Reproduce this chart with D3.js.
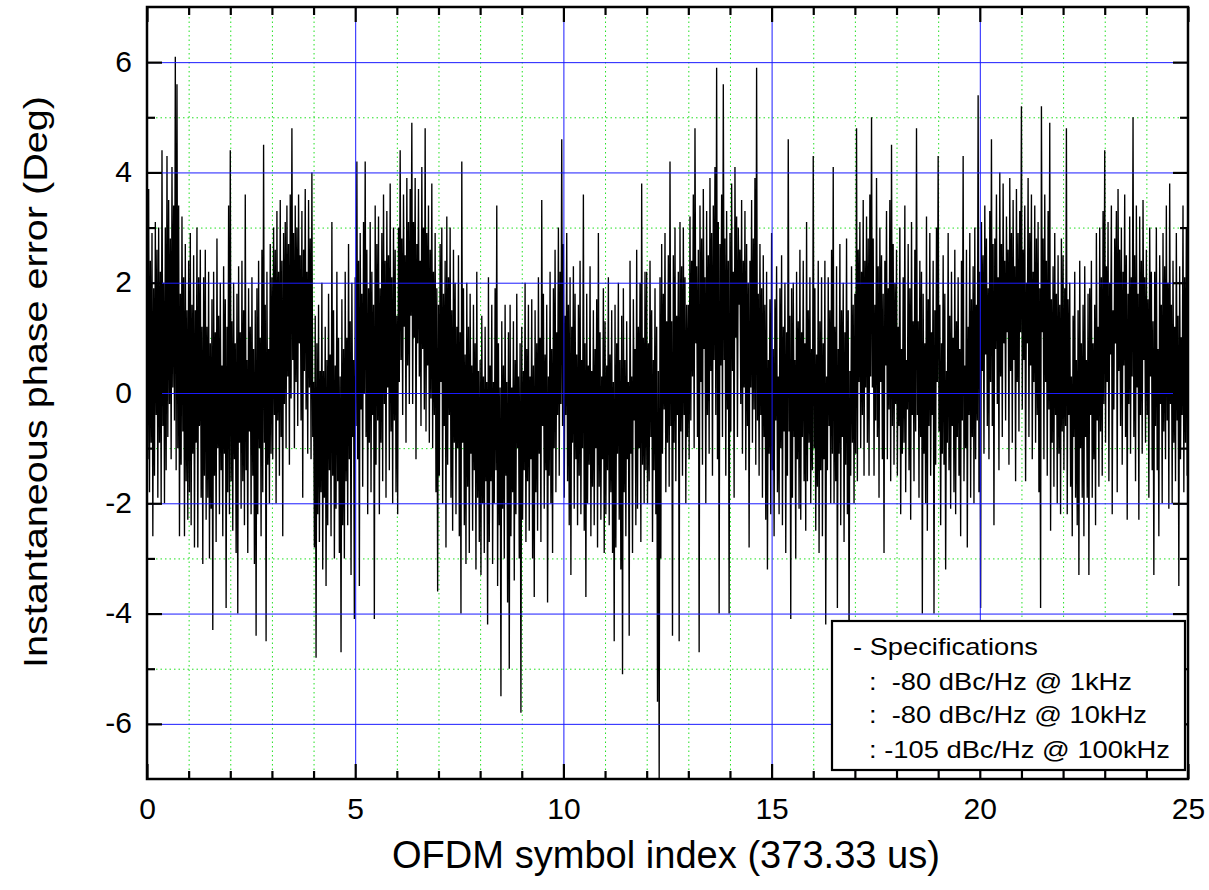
<!DOCTYPE html>
<html><head><meta charset="utf-8">
<script src="https://cdn.jsdelivr.net/npm/d3@7"></script>
<style>
body{margin:0;background:#fff}
text{font-family:"Liberation Sans", Arial, Helvetica, sans-serif; fill:#000; white-space:pre}
</style>
</head><body><svg id="chart" width="1209" height="890"></svg>
<script>
// ---- data, one row per OFDM symbol ----
const sampleStep = 0.02; // OFDM symbols per sample
const phaseError = [
 3.2,-1.2,3.7,-1.8,2.4,-0.9,2.9,-2.6,1.9,-1.5,3.1,-0.4,2.6,-1.9,3.0,-0.9,2.2,-2.0,4.4,-0.6,2.0,-2.0,3.0,-1.4,4.3,-0.8,3.5,-0.2,2.8,-1.2,4.1,0.1,3.4,-0.5,6.1,-1.4,5.6,-1.0,3.4,-2.6,1.8,-1.3,3.2,-0.7,2.1,-2.6,2.7,-1.6,1.5,-2.3,
 2.4,-1.8,2.9,-2.4,1.6,-1.1,2.5,-2.8,1.5,-0.9,3.0,-2.8,2.1,-0.6,2.6,-1.9,1.2,-3.1,2.1,-1.5,2.6,-2.3,1.2,-1.9,2.2,-3.0,0.9,-2.1,1.7,-4.3,2.2,-1.5,1.1,-2.7,2.8,-1.0,1.4,-2.2,2.0,-1.4,0.5,-2.6,2.3,-1.1,1.7,-3.9,1.2,-1.8,3.4,-2.2,
 4.4,-1.6,1.3,-2.5,2.0,-1.2,0.9,-2.9,1.8,-4.0,2.3,-0.9,1.1,-2.1,2.4,-1.6,1.5,-2.4,3.6,-1.4,0.6,-2.9,1.9,-0.7,1.2,-2.2,2.1,-1.5,0.8,-3.1,1.5,-4.4,1.9,-2.2,2.4,-1.0,1.0,-2.6,2.6,-1.8,4.5,-0.9,1.6,-4.5,2.2,-1.3,0.8,-2.0,2.7,-1.1,
 2.1,-1.2,3.0,-0.4,2.6,-2.0,3.3,-0.5,2.2,-1.5,3.5,-0.8,2.4,-2.6,2.9,-0.2,3.1,-1.0,3.4,0.3,2.7,-1.3,3.6,-0.1,4.8,0.6,2.9,-1.0,3.4,0.2,3.0,-0.6,3.6,0.9,2.5,-0.5,3.3,-1.9,2.6,0.4,3.7,-0.3,2.2,-1.1,3.5,0.1,2.8,-1.2,4.0,-0.8,
 0.2,-2.8,1.4,-4.8,0.9,-2.2,1.6,-2.7,0.4,-1.8,2.0,-3.2,0.4,-1.9,1.2,-3.5,0.6,-2.4,1.8,-1.4,0.7,-2.6,3.1,-1.5,1.5,-3.0,0.5,-2.1,2.2,-1.6,1.0,-2.9,0.3,-4.7,1.7,-2.4,0.8,-3.0,2.2,-1.6,1.0,-2.4,2.7,-1.2,1.3,-3.3,2.0,-0.8,0.6,-4.1,
 2.1,-0.6,4.2,-1.2,2.4,-3.5,2.9,-0.3,1.8,-1.7,3.1,0.0,4.2,-0.8,2.6,-2.2,1.9,-0.9,3.1,-1.8,2.2,-0.4,1.6,-4.1,3.4,-1.3,2.7,-0.5,3.2,-2.2,1.9,-0.9,2.9,-1.6,3.6,-0.2,2.4,-1.9,3.3,0.1,2.5,-1.4,3.8,-0.7,2.1,-2.0,3.0,-0.5,2.6,-1.8,
 1.4,-2.2,3.0,0.2,4.4,0.6,2.8,-0.4,3.6,1.2,2.5,-0.9,3.9,0.5,3.1,-0.2,3.7,1.4,4.9,-0.2,3.1,1.0,3.9,-1.2,2.7,0.9,3.7,0.3,2.4,-0.6,4.1,0.8,3.0,-0.3,4.8,-0.7,2.9,0.5,3.4,-0.9,2.6,-0.1,3.8,-1.0,2.2,-0.4,2.9,-1.8,1.9,-3.6,
 1.6,-1.5,2.7,0.2,3.0,-2.0,1.8,-0.6,2.4,-2.8,3.2,-1.3,2.1,-0.4,3.0,-1.9,1.5,-2.5,2.6,-0.9,2.0,-2.2,1.2,-1.0,2.5,-2.6,1.1,-4.0,4.2,-0.9,1.9,-2.4,0.7,-3.1,2.0,-1.7,1.2,-2.9,1.8,-1.1,0.5,-2.5,1.6,-1.4,0.9,-3.2,2.2,-1.9,0.4,-2.7,
 0.6,-3.3,1.4,-2.0,0.3,-2.9,1.2,-1.6,0.2,-4.2,2.1,-2.7,0.5,-1.6,1.6,-3.1,0.2,-2.0,1.9,-1.4,3.4,-3.5,0.9,-2.4,0.1,-5.5,1.3,-2.1,0.5,-3.0,1.6,-1.5,0.2,-3.8,1.1,-5.0,1.6,-2.6,0.1,-1.8,1.3,-3.4,0.6,-2.2,1.8,-1.0,0.3,-3.0,0.9,-5.8,
 1.2,-2.3,0.4,-1.4,2.0,-2.7,0.8,-1.6,1.6,-2.5,0.3,-1.2,1.7,-3.0,0.5,-3.7,1.5,-1.8,0.9,-2.5,2.1,-1.1,1.0,-2.7,3.5,-0.6,1.8,-2.1,0.7,-1.4,1.6,-3.8,0.3,-1.5,2.2,-2.0,0.8,-2.9,1.9,-1.0,2.6,-1.8,1.1,-0.4,3.0,-1.5,2.2,-0.2,4.6,-0.6,
 2.7,-1.9,1.4,-0.4,2.9,-1.6,1.6,-2.4,2.1,-3.3,1.2,-0.9,2.3,-2.1,1.8,-1.2,0.7,-2.4,1.6,-1.5,2.4,-2.2,0.6,-1.0,3.6,-2.5,0.9,-3.7,1.8,-2.0,0.5,-1.3,2.3,-2.6,0.4,-1.7,1.5,-2.4,0.8,-1.0,1.7,-2.8,2.9,-1.7,1.1,-2.3,0.3,-1.2,1.9,-2.9,
 1.3,-2.2,0.5,-1.4,2.1,-2.4,0.7,-1.8,1.5,-2.9,0.2,-4.5,1.6,-2.8,0.9,-1.1,2.0,-2.3,0.6,-3.2,1.4,-5.1,1.9,-1.8,0.6,-2.6,1.3,-1.2,0.2,-4.4,2.4,-1.1,0.3,-2.9,1.7,-0.5,0.8,-2.4,2.6,-2.1,1.2,-1.0,2.0,-2.7,3.8,-1.3,1.0,-2.0,2.2,-1.4,
 2.2,-2.0,0.9,-1.6,2.4,-0.8,1.5,-2.7,0.6,-1.4,1.9,-2.2,1.2,-5.6,0.4,-7.0,2.1,-3.0,2.7,-1.1,1.8,-0.3,2.9,-1.8,1.3,-0.9,2.5,-1.7,4.2,-0.6,1.3,-4.4,2.5,-0.9,3.0,-1.6,1.4,-0.4,2.2,-4.5,3.1,-0.7,2.3,-1.5,3.0,-0.4,2.1,-2.0,1.6,-0.8,
 1.6,-1.2,3.2,-0.5,2.4,0.3,3.6,-1.0,4.8,0.9,2.3,-0.8,2.6,-4.7,3.4,0.2,2.8,-1.3,3.7,0.8,2.1,-2.0,3.3,-0.4,2.5,-1.1,3.9,0.4,2.9,-1.5,3.4,0.6,4.1,-0.4,5.9,-1.2,3.1,-4.0,2.7,0.5,3.6,-0.8,5.6,0.6,2.8,-1.5,3.3,-0.3,2.4,-4.0,
 2.9,-0.7,3.8,0.4,2.2,-1.9,4.1,1.0,3.2,-0.8,3.0,1.6,2.6,-0.2,3.5,-1.1,2.4,0.1,3.3,-1.4,2.7,-0.6,2.0,-2.8,2.4,0.1,3.5,-0.9,2.8,-0.3,3.9,-1.3,5.9,-0.5,1.8,-1.5,2.7,-0.4,1.9,-1.9,2.5,-0.8,1.6,-2.3,2.2,-3.2,0.6,-1.1,1.7,-2.2,
 2.9,-1.4,0.8,-2.6,1.7,-0.5,2.3,-1.8,0.3,-2.2,1.9,-1.0,2.5,-2.4,1.2,-0.7,2.0,-2.9,1.1,-1.5,4.6,-0.7,1.4,-4.1,1.9,-1.9,2.0,-0.8,0.6,-3.0,2.2,-1.2,1.3,-2.1,2.6,-2.3,1.1,-0.8,2.4,-1.6,0.9,-2.5,3.1,-1.6,1.5,-0.9,2.1,-2.0,0.8,-1.4,
 4.3,-1.0,1.9,-2.5,0.7,-1.7,2.4,-2.9,1.3,-1.4,2.1,-2.6,0.9,-1.2,2.4,-4.2,0.3,-1.4,2.1,-0.6,1.5,-2.0,2.6,-1.1,4.1,-2.0,1.2,-1.6,2.3,-3.9,0.8,-1.1,2.7,-2.4,1.5,-0.8,2.0,-2.7,1.1,-1.3,2.8,-2.2,1.5,-4.6,0.4,-1.5,2.3,-0.9,1.6,-2.0,
 1.8,-1.1,4.8,-1.6,2.6,0.2,3.1,-1.0,2.2,-0.4,3.5,-1.5,2.4,0.1,3.2,-0.9,2.8,-1.5,3.6,0.3,5.0,0.1,2.8,-1.5,1.6,-0.5,3.9,-0.8,2.3,-1.9,3.0,0.2,2.5,-1.2,1.8,-2.9,2.4,0.5,3.3,-1.2,1.9,-0.3,3.5,-1.6,4.5,-0.6,2.7,-1.3,2.0,-0.2,
 2.6,-1.5,1.2,-0.6,3.0,-2.2,0.8,-1.1,2.1,-0.9,3.4,-1.8,0.6,-0.3,2.7,-1.4,1.9,-2.3,3.1,-0.4,1.3,-1.6,2.6,-0.7,4.8,-0.4,1.3,-1.9,2.4,-0.8,2.2,-4.0,1.8,-1.1,0.9,-2.0,3.2,-2.5,1.7,-0.6,2.9,-1.5,1.1,-0.4,2.4,-4.0,1.5,-1.3,3.0,0.2,
 4.3,-0.7,1.6,-2.4,0.9,-1.1,2.5,-1.3,1.8,-3.2,0.4,-0.9,2.9,-1.4,1.4,-2.1,2.2,-0.6,1.0,-1.8,2.6,-2.2,1.3,-0.8,2.1,-1.5,0.8,-2.6,2.4,-0.5,4.3,-1.6,0.5,-1.0,2.6,-2.8,1.2,-0.4,2.9,-1.9,1.7,-0.8,2.3,-2.0,3.0,-1.2,1.6,-0.5,5.4,-1.8,
 2.2,-3.9,3.1,0.4,2.5,-1.1,3.4,0.7,2.8,-0.6,1.9,-1.2,3.3,0.2,4.6,-0.6,2.7,-2.4,2.8,0.8,3.6,-0.2,2.1,-1.4,4.0,0.3,2.7,-0.8,3.8,0.9,2.4,-0.5,3.2,1.1,2.6,-1.3,3.9,0.4,2.9,-0.9,3.5,0.6,2.3,-1.6,3.7,0.2,2.9,-0.7,3.3,1.1,
 5.2,-0.3,2.6,0.6,3.4,-1.6,2.0,0.9,3.9,-0.8,2.9,0.5,3.6,-1.2,2.2,0.2,3.4,-0.9,2.8,-0.4,3.1,-1.8,1.9,-3.9,5.2,1.1,2.8,-1.2,3.6,0.2,2.4,-1.5,3.3,-0.3,4.9,-2.5,1.7,-0.9,2.3,-1.7,2.9,-0.4,1.8,-2.0,2.5,-1.1,1.6,-2.2,2.8,-0.7,
 2.5,-1.4,1.9,-0.6,4.8,-2.2,1.7,-0.4,2.0,-1.7,0.3,-2.6,1.4,-0.8,2.2,-1.9,0.6,-2.4,1.5,-3.3,2.4,-1.0,0.9,-1.9,1.6,-2.6,2.3,-0.8,0.6,-1.9,1.8,-3.3,1.9,-0.4,2.4,-1.9,0.9,-1.2,1.6,-2.4,2.9,-0.5,1.2,-1.7,3.0,-0.7,2.1,-1.5,3.3,-0.2,
 4.4,-0.9,2.3,0.2,3.1,-1.6,2.0,0.7,3.4,-2.2,1.5,-0.3,2.8,0.9,3.3,-1.8,3.7,0.4,2.6,-0.6,3.0,-1.3,2.2,0.5,3.6,-0.8,2.5,-2.3,1.8,-0.2,3.2,-1.1,2.1,0.3,5.0,-0.8,2.5,-1.6,3.4,0.1,1.8,-2.3,3.2,-0.4,2.4,-1.1,3.5,0.6,2.1,-0.9,
 2.6,-0.4,1.7,-1.9,3.0,0.3,2.2,-1.4,1.3,-3.3,2.2,-0.6,3.0,-1.4,0.8,-2.6,2.5,-0.2,1.6,-2.0,2.9,-0.7,2.3,-1.2,3.4,-0.5,2.0,-2.1,3.8,-0.2,1.6,-2.0,2.4,-0.9,1.2,-1.6,2.9,-0.5,1.4,-3.5,2.3,-1.2,1.0,-0.4,3.4,-1.8,2.1,-0.9,3.0,-1.5,
 5.8
];
const xDomain = [0, 25];
const yDomain = [-7, 7];
const xMajorTicks = [0, 5, 10, 15, 20, 25];
const xMinorTicks = [1,2,3,4,6,7,8,9,11,12,13,14,16,17,18,19,21,22,23,24];
const yMajorTicks = [-6, -4, -2, 0, 2, 4, 6];
const yMinorTicks = [-5, -3, -1, 1, 3, 5];
const xTitle = "OFDM symbol index (373.33 us)";
const yTitle = "Instantaneous phase error (Deg)";
const legendLines = ["- Specifications", ":  -80 dBc/Hz @ 1kHz", ":  -80 dBc/Hz @ 10kHz", ": -105 dBc/Hz @ 100kHz"];

// ---- layout ----
const svg = d3.select("#chart");
const L = 147, R = 1188, T = 7, B = 779;
const x = d3.scaleLinear(xDomain, [L, R]);
const y = d3.scaleLinear(yDomain, [B, T]);
const PW = R - L, PH = B - T;

svg.append("rect").attr("width", 1209).attr("height", 890).attr("fill", "#fff");

svg.append("defs").append("clipPath").attr("id", "clip")
  .append("rect").attr("x", L).attr("y", T).attr("width", PW).attr("height", PH);

function styleGrid(g, color, dash, width) {
  g.select(".domain").remove();
  g.selectAll(".tick line").attr("stroke", color).attr("stroke-width", width)
    .attr("stroke-dasharray", dash);
  g.selectAll(".tick text").remove();
}

// minor grid (green dotted)
svg.append("g").attr("transform", `translate(0,${B})`)
  .call(d3.axisBottom(x).tickValues(xMinorTicks).tickSize(-PH).tickFormat(""))
  .call(g => styleGrid(g, "#22e022", "1.5,3", 1));
svg.append("g").attr("transform", `translate(${L},0)`)
  .call(d3.axisLeft(y).tickValues(yMinorTicks).tickSize(-PW).tickFormat(""))
  .call(g => styleGrid(g, "#22e022", "1.5,3", 1));

// data line
const line = d3.line()
  .x((d, i) => x(i * sampleStep))
  .y(d => y(d));
svg.append("path").datum(phaseError)
  .attr("clip-path", "url(#clip)")
  .attr("d", line)
  .attr("fill", "none").attr("stroke", "#000").attr("stroke-width", 1.35)
  .attr("stroke-linejoin", "bevel");

// major grid (blue)
svg.append("g").attr("transform", `translate(0,${B})`)
  .call(d3.axisBottom(x).tickValues(xMajorTicks.filter(v => v > xDomain[0] && v < xDomain[1])).tickSize(-PH).tickFormat(""))
  .call(g => styleGrid(g, "#1a1aff", null, 1));
svg.append("g").attr("transform", `translate(${L},0)`)
  .call(d3.axisLeft(y).tickValues(yMajorTicks).tickSize(-PW).tickFormat(""))
  .call(g => styleGrid(g, "#1a1aff", null, 1));

// ticks (inward) on all four sides
function styleTicks(g) {
  g.select(".domain").remove();
  g.selectAll(".tick line").attr("stroke", "#000").attr("stroke-width", 2.2);
}
const tickFont = "30px";
svg.append("g").attr("transform", `translate(0,${B})`)
  .call(d3.axisBottom(x).tickValues(xMinorTicks).tickSize(-8).tickFormat("")).call(styleTicks);
svg.append("g").attr("transform", `translate(0,${B})`)
  .call(d3.axisBottom(x).tickValues(xMajorTicks).tickSize(-15).tickPadding(19).tickFormat(d3.format("d")))
  .call(styleTicks)
  .call(g => g.selectAll(".tick text").style("font-size", tickFont).attr("fill", "#000")
     .attr("font-family", null));
svg.append("g").attr("transform", `translate(0,${T})`)
  .call(d3.axisTop(x).tickValues(xMinorTicks).tickSize(-8).tickFormat("")).call(styleTicks);
svg.append("g").attr("transform", `translate(0,${T})`)
  .call(d3.axisTop(x).tickValues(xMajorTicks).tickSize(-15).tickFormat("")).call(styleTicks);

svg.append("g").attr("transform", `translate(${L},0)`)
  .call(d3.axisLeft(y).tickValues(yMinorTicks).tickSize(-8).tickFormat("")).call(styleTicks);
svg.append("g").attr("transform", `translate(${L},0)`)
  .call(d3.axisLeft(y).tickValues(yMajorTicks).tickSize(-15).tickPadding(15).tickFormat(d3.format("d")))
  .call(styleTicks)
  .call(g => g.selectAll(".tick text").style("font-size", tickFont).attr("fill", "#000")
     .attr("font-family", null).attr("dy", "0.3em").text(d => String(d)));
svg.append("g").attr("transform", `translate(${R},0)`)
  .call(d3.axisRight(y).tickValues(yMinorTicks).tickSize(-8).tickFormat("")).call(styleTicks);
svg.append("g").attr("transform", `translate(${R},0)`)
  .call(d3.axisRight(y).tickValues(yMajorTicks).tickSize(-15).tickFormat("")).call(styleTicks);

// frame
svg.append("rect").attr("x", L).attr("y", T).attr("width", PW).attr("height", PH)
  .attr("fill", "none").attr("stroke", "#000").attr("stroke-width", 2.5);

// axis titles
svg.append("text").attr("x", 666).attr("y", 868)
  .attr("text-anchor", "middle").style("font-size", "38px")
  .attr("textLength", 548).attr("lengthAdjust", "spacingAndGlyphs")
  .text(xTitle);
svg.append("text").attr("transform", `translate(47,382) rotate(-90)`)
  .attr("text-anchor", "middle").style("font-size", "34px")
  .attr("textLength", 572).attr("lengthAdjust", "spacingAndGlyphs")
  .text(yTitle);

// legend box
const lg = svg.append("g");
lg.append("rect").attr("x", 832).attr("y", 621).attr("width", 353).attr("height", 149)
  .attr("fill", "#fff").attr("stroke", "#000").attr("stroke-width", 2.2);
const legendX = [853, 869, 869, 869];
const legendY = [655, 690, 723, 758];
const legendW = [185, 263, 278, 301];
lg.selectAll("text.lg").data(legendLines).join("text").attr("class", "lg")
  .attr("x", (d, i) => legendX[i]).attr("y", (d, i) => legendY[i])
  .style("font-size", "24px")
  .attr("textLength", (d, i) => legendW[i]).attr("lengthAdjust", "spacingAndGlyphs")
  .text(d => d);
</script>
</body></html>
